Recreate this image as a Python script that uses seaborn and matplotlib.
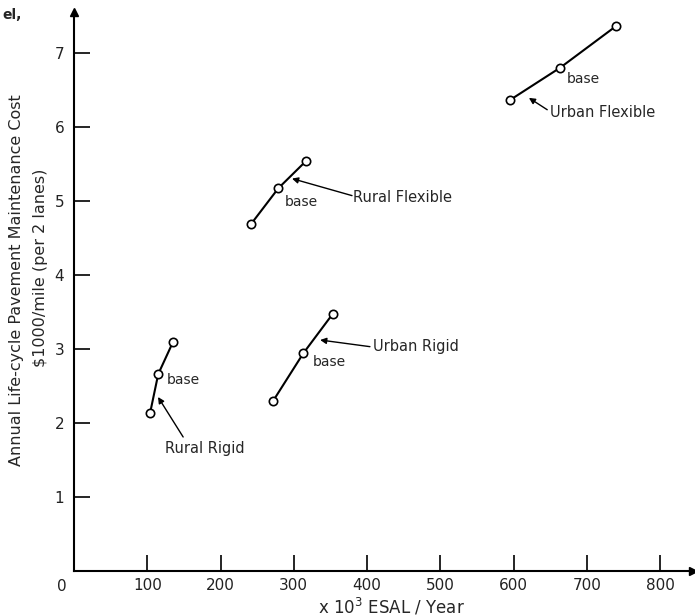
import matplotlib
matplotlib.use("Agg")
import matplotlib.pyplot as plt
import seaborn as sns
import pandas as pd

# ---- data ----
series_names = ["Rural Rigid", "Rural Flexible", "Urban Rigid", "Urban Flexible"]
rural_rigid_x = [104, 115, 135]
rural_rigid_y = [2.14, 2.66, 3.09]
rural_flex_x = [242, 279, 317]
rural_flex_y = [4.69, 5.17, 5.54]
urban_rigid_x = [272, 313, 353]
urban_rigid_y = [2.30, 2.94, 3.47]
urban_flex_x = [595, 664, 740]
urban_flex_y = [6.36, 6.80, 7.36]
x_ticks = [100, 200, 300, 400, 500, 600, 700, 800]
y_ticks = [1, 2, 3, 4, 5, 6, 7]

xs = [rural_rigid_x, rural_flex_x, urban_rigid_x, urban_flex_x]
ys = [rural_rigid_y, rural_flex_y, urban_rigid_y, urban_flex_y]
rows = []
for name, xv, yv in zip(series_names, xs, ys):
    for a, b in zip(xv, yv):
        rows.append({"series": name, "esal": a, "cost": b})
df = pd.DataFrame(rows)

sns.set_style("ticks")
plt.rcParams["font.family"] = ["DejaVu Sans"]

fig = plt.figure(figsize=(6.95, 6.16), dpi=100)
ax = fig.add_axes([74 / 695, 45 / 616, 619 / 695, 559 / 616])

for name in series_names:
    sub = df[df["series"] == name]
    sns.lineplot(data=sub, x="esal", y="cost", ax=ax, color="black", lw=1.5,
                 marker="o", markersize=6, markerfacecolor="white",
                 markeredgecolor="black", markeredgewidth=1.2, sort=False)

ax.set_xlim(0, 845)
ax.set_ylim(0, 7.55)
ax.set_xticks(x_ticks)
ax.set_xticklabels([str(v) for v in x_ticks])
ax.set_yticks(y_ticks)
ax.set_yticklabels([str(v) for v in y_ticks])
ax.tick_params(axis="both", direction="in", length=11.5, width=1.2,
               labelsize=11, color="black", labelcolor="#222222")
ax.tick_params(axis="x", pad=5)
ax.tick_params(axis="y", pad=7)
ax.set_xlabel("")
ax.set_ylabel("")
for s in ["top", "right"]:
    ax.spines[s].set_visible(False)
for s in ["left", "bottom"]:
    ax.spines[s].set_linewidth(1.5)
    ax.spines[s].set_color("black")
# axis arrowheads
ax.plot(1, 0, ">k", transform=ax.get_yaxis_transform(), clip_on=False, markersize=6)
ax.plot(0, 1, "^k", transform=ax.get_xaxis_transform(), clip_on=False, markersize=6)

# shared origin label
ax.annotate("0", xy=(0, 0), xytext=(-9, -11), textcoords="offset points",
            ha="center", va="center", fontsize=11, color="#222222")

fs = 10.5
# base labels
ax.text(127, 2.58, "base", fontsize=10, ha="left", va="center")
ax.text(288, 4.99, "base", fontsize=10, ha="left", va="center")
ax.text(326, 2.82, "base", fontsize=10, ha="left", va="center")
ax.text(673, 6.64, "base", fontsize=10, ha="left", va="center")

# series labels with arrows
arrow = dict(arrowstyle="-|>", color="black", lw=1.0, mutation_scale=9,
             shrinkA=0, shrinkB=0)
ax.text(179, 1.66, series_names[0], fontsize=fs, ha="center", va="center")
ax.annotate("", xy=(114.7, 2.35), xytext=(149, 1.81), arrowprops=arrow)
ax.text(381, 5.05, series_names[1], fontsize=fs, ha="left", va="center")
ax.annotate("", xy=(297.6, 5.30), xytext=(379.5, 5.07), arrowprops=arrow)
ax.text(408, 3.03, series_names[2], fontsize=fs, ha="left", va="center")
ax.annotate("", xy=(336, 3.12), xytext=(404, 3.03), arrowprops=arrow)
ax.text(650, 6.19, series_names[3], fontsize=fs, ha="left", va="center")
ax.annotate("", xy=(621, 6.39), xytext=(646, 6.23), arrowprops=arrow)

# axis titles
fig.text(17 / 695, 1 - 280 / 616, "Annual Life-cycle Pavement Maintenance Cost",
         rotation=90, ha="center", va="center", fontsize=11.5)
fig.text(41 / 695, 1 - 268 / 616, "$1000/mile (per 2 lanes)",
         rotation=90, ha="center", va="center", fontsize=11.5)
fig.text(391 / 695, 1 - 607 / 616, "x 10$^3$ ESAL / Year",
         ha="center", va="center", fontsize=12)
fig.text(2 / 695, 1 - 15 / 616, "el,", ha="left", va="center", fontsize=10,
         fontweight="bold")

fig.savefig("out.png", dpi=100, facecolor="white")
